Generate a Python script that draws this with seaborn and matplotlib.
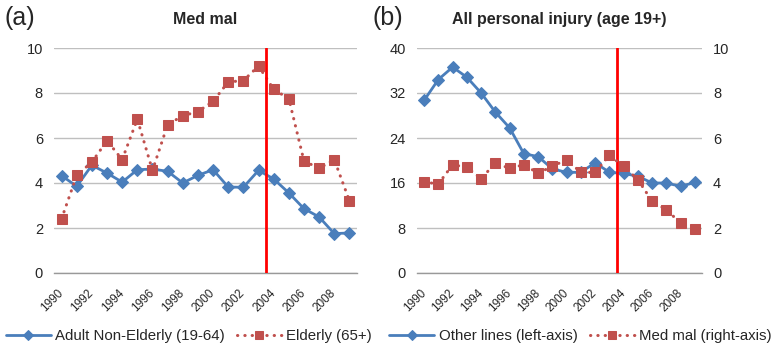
import matplotlib
matplotlib.use("Agg")
import matplotlib.pyplot as plt
import seaborn as sns
import pandas as pd
import numpy as np

years = list(range(1990, 2010))
adult_non_elderly = [4.33, 3.85, 4.79, 4.44, 4.04, 4.59, 4.62, 4.52, 4.00, 4.34,
                     4.59, 3.82, 3.81, 4.56, 4.18, 3.56, 2.86, 2.49, 1.75, 1.78]
elderly = [2.41, 4.34, 4.93, 5.88, 5.04, 6.84, 4.56, 6.59, 6.99, 7.17,
           7.63, 8.49, 8.55, 9.20, 8.16, 7.75, 4.98, 4.65, 5.04, 3.21]
other_lines = [30.7, 34.4, 36.6, 34.8, 32.0, 28.6, 25.8, 21.2, 20.7, 18.5,
               17.9, 17.9, 19.6, 17.9, 17.7, 17.2, 16.0, 16.0, 15.4, 16.1]
med_mal = [4.04, 3.96, 4.81, 4.70, 4.19, 4.89, 4.65, 4.81, 4.44, 4.74,
           5.04, 4.47, 4.47, 5.23, 4.74, 4.15, 3.19, 2.81, 2.22, 1.96]
tick_years = list(range(1990, 2010, 2))
event_year = 2003.5

sns.set_theme(style="white")
plt.rcParams['font.family'] = ['Liberation Sans', 'DejaVu Sans']

BLUE = "#4A7EBB"
RED = "#C0504D"
GRID = "#BFBFBF"

df = pd.DataFrame({"year": years, "adult": adult_non_elderly, "elderly": elderly,
                   "other": other_lines, "medmal": med_mal})
df["idx"] = np.arange(len(years))
ev_x = event_year - years[0]

fig = plt.figure(figsize=(7.74, 3.48), dpi=100)
axL = fig.add_axes([54/774, 1-273/348, (357-54)/774, (273-48)/348])
axR = fig.add_axes([417/774, 1-273/348, (702-417)/774, (273-48)/348])

blue_kw = dict(color=BLUE, linewidth=2, marker="D", markersize=6.5,
               markeredgecolor=BLUE, zorder=3)
red_kw = dict(color=RED, linewidth=2.2, linestyle=(0, (0.1, 2.3)), dash_capstyle="round",
              marker="s", markersize=7, markeredgecolor=RED, zorder=3)

def style_axis(ax, ymax, ystep):
    ax.set_xlim(-0.5, len(years) - 0.5)
    ax.set_ylim(0, ymax)
    ax.set_yticks(np.arange(0, ymax + 0.01, ystep))
    ax.set_xticks([y - years[0] for y in tick_years])
    ax.set_xticklabels([str(y) for y in tick_years], fontsize=8.5)
    plt.setp(ax.get_xticklabels(), rotation=45, ha="right", va="center",
             rotation_mode="anchor")
    ax.set_xticks(np.arange(-0.5, len(years)), minor=True)
    ax.tick_params(axis="x", which="major", length=0, pad=13)
    ax.tick_params(axis="x", which="minor", length=5, width=0.8, color="#999999",
                   direction="inout")
    ax.tick_params(axis="y", length=0, labelsize=10.5, pad=8)
    ax.grid(axis="y", color=GRID, linewidth=1)
    ax.set_axisbelow(True)
    for s in ["left", "right", "top"]:
        ax.spines[s].set_visible(False)
    ax.spines["bottom"].set_color("#999999")
    ax.spines["bottom"].set_linewidth(1)
    ax.set_xlabel("")
    ax.set_ylabel("")

leg_kw = dict(loc="center", ncol=2, frameon=False, fontsize=10.8, handlelength=3.0,
              columnspacing=0.8, handletextpad=0.3, markerscale=0.75)

# Left panel
sns.lineplot(data=df, x="idx", y="adult", ax=axL, label="Adult Non-Elderly (19-64)", **blue_kw)
sns.lineplot(data=df, x="idx", y="elderly", ax=axL, label="Elderly (65+)", **red_kw)
style_axis(axL, 10, 2)
axL.axvline(ev_x, color="#FF0000", linewidth=2, zorder=4)
axL.set_title("Med mal", fontsize=11.5, fontweight="bold", pad=17)
axL.legend(bbox_to_anchor=(0.4455, -0.28), **leg_kw)

# Right panel
sns.lineplot(data=df, x="idx", y="other", ax=axR, legend=False, **blue_kw)
style_axis(axR, 40, 8)
axR.axvline(ev_x, color="#FF0000", linewidth=2, zorder=4)
axR2 = axR.twinx()
sns.lineplot(data=df, x="idx", y="medmal", ax=axR2, legend=False, **red_kw)
axR2.set_ylim(0, 10)
axR2.set_yticks(np.arange(0, 11, 2))
axR2.tick_params(axis="y", length=0, labelsize=10.5, pad=8)
for s in ["left", "right", "top", "bottom"]:
    axR2.spines[s].set_visible(False)
axR2.set_ylabel("")
axR.set_title("All personal injury (age 19+)", fontsize=11.5, fontweight="bold", pad=17)
hb = axR.get_lines()[0]
hr = axR2.get_lines()[0]
axR.legend([hb, hr], ["Other lines (left-axis)", "Med mal (right-axis)"],
           bbox_to_anchor=(0.5737, -0.28), **leg_kw)

fig.text(5/774, 1-18/348, "(a)", fontsize=18, va="center", ha="left")
fig.text(373/774, 1-18/348, "(b)", fontsize=18, va="center", ha="left")

fig.savefig("out.png", dpi=100)
